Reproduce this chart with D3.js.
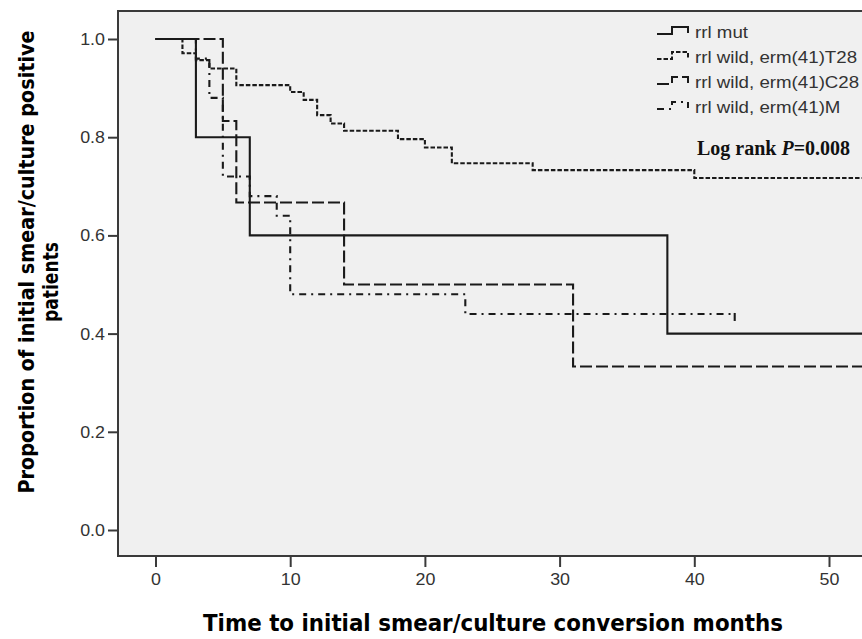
<!DOCTYPE html>
<html>
<head>
<meta charset="utf-8">
<script src="https://cdn.jsdelivr.net/npm/d3@7"></script>
<style>
  body { margin: 0; background: #fff; }
</style>
</head>
<body>
<svg id="chart" width="862" height="639"></svg>
<script>
// series: step times (months) and proportion still positive
var seriesNames = ['rrl mut', 'rrl wild, erm(41)T28', 'rrl wild, erm(41)C28', 'rrl wild, erm(41)M'];
var mutTimes = [0, 3, 7, 38];
var mutSurv = [1.0, 0.8, 0.6, 0.4];
var t28Times = [0, 2, 3, 4, 6, 10, 11, 12, 13, 14, 18, 20, 22, 28, 40];
var t28Surv = [1.0, 0.971, 0.957, 0.94, 0.906, 0.892, 0.876, 0.845, 0.828, 0.813, 0.796, 0.779, 0.747, 0.733, 0.717];
var c28Times = [0, 5, 6, 14, 31];
var c28Surv = [1.0, 0.833, 0.667, 0.5, 0.333];
var mTimes = [0, 3, 4, 5, 7, 9, 10, 23];
var mSurv = [1.0, 0.96, 0.88, 0.72, 0.68, 0.64, 0.48, 0.44];
var endTimes = [56, 56, 56, 43];
var censored = [false, false, false, true];
var xTicks = [0, 10, 20, 30, 40, 50];
var yTicks = [0.0, 0.2, 0.4, 0.6, 0.8, 1.0];
var pValue = '0.008';

var dashes = [null, '4.5,2', '12,4', '7,5,2,5'];
var inkColor = '#1a1a1a';
var frame = { left: 118, top: 11, right: 874, bottom: 556 };

var svg = d3.select('#chart');
var x = d3.scaleLinear().domain([0, 50]).range([155.5, 829]);
var y = d3.scaleLinear().domain([0, 1]).range([530, 39]);

// SPSS export looks stretched sideways a bit
var stretch = function(sel, k) {
  sel.each(function() {
    var w = this.getComputedTextLength();
    d3.select(this).attr('textLength', w * k).attr('lengthAdjust', 'spacingAndGlyphs');
  });
};

svg.append('defs').append('clipPath').attr('id', 'plotClip')
  .append('rect')
  .attr('x', frame.left).attr('y', frame.top)
  .attr('width', frame.right - frame.left).attr('height', frame.bottom - frame.top);

svg.append('rect')
  .attr('x', frame.left).attr('y', frame.top)
  .attr('width', frame.right - frame.left).attr('height', frame.bottom - frame.top)
  .attr('fill', '#f0f0f0');

// curves
var allTimes = [mutTimes, t28Times, c28Times, mTimes];
var allSurv = [mutSurv, t28Surv, c28Surv, mSurv];
var series = seriesNames.map(function(name, i) {
  var pts = allTimes[i].map(function(t, j) { return [t, allSurv[i][j]]; });
  pts.push([endTimes[i], allSurv[i][allSurv[i].length - 1]]);
  return { name: name, points: pts, dash: dashes[i], censored: censored[i] };
});

var line = d3.line()
  .x(function(d) { return x(d[0]); })
  .y(function(d) { return y(d[1]); })
  .curve(d3.curveStepAfter);

var gLines = svg.append('g').attr('clip-path', 'url(#plotClip)');
gLines.selectAll('path').data(series).enter().append('path')
  .attr('d', function(d) { return line(d.points); })
  .attr('fill', 'none')
  .attr('stroke', inkColor)
  .attr('stroke-width', 2.1)
  .attr('stroke-dasharray', function(d) { return d.dash; });

gLines.selectAll('line.censor').data(series.filter(function(d) { return d.censored; })).enter()
  .append('line').attr('class', 'censor')
  .attr('x1', function(d) { return x(d.points[d.points.length - 1][0]); })
  .attr('x2', function(d) { return x(d.points[d.points.length - 1][0]); })
  .attr('y1', function(d) { return y(d.points[d.points.length - 1][1]) - 1; })
  .attr('y2', function(d) { return y(d.points[d.points.length - 1][1]) + 7; })
  .attr('stroke', inkColor).attr('stroke-width', 2.1);

// frame
svg.append('rect')
  .attr('x', frame.left).attr('y', frame.top)
  .attr('width', frame.right - frame.left).attr('height', frame.bottom - frame.top)
  .attr('fill', 'none').attr('stroke', '#3a3a3a').attr('stroke-width', 2);

// axes
var yAxis = svg.append('g').attr('transform', 'translate(' + frame.left + ',0)')
  .call(d3.axisLeft(y).tickValues(yTicks).tickFormat(d3.format('.1f')).tickSize(10).tickPadding(3));
var xAxis = svg.append('g').attr('transform', 'translate(0,' + frame.bottom + ')')
  .call(d3.axisBottom(x).tickValues(xTicks).tickFormat(d3.format('d')).tickSize(11).tickPadding(6));
[yAxis, xAxis].forEach(function(ax) {
  ax.select('.domain').remove();
  ax.selectAll('.tick line').attr('stroke', '#3a3a3a').attr('stroke-width', 2);
  ax.selectAll('.tick text')
    .attr('fill', '#333')
    .attr('font-family', 'Liberation Sans, Arial, sans-serif')
    .attr('font-size', 17)
    .call(stretch, 1.05);
});

// axis titles
svg.append('text')
  .attr('x', 493).attr('y', 631)
  .attr('text-anchor', 'middle')
  .attr('font-family', 'DejaVu Sans, Verdana, sans-serif')
  .attr('font-weight', 'bold').attr('font-size', 23)
  .attr('textLength', 580).attr('lengthAdjust', 'spacingAndGlyphs')
  .text('Time to initial smear/culture conversion months');

svg.append('text')
  .attr('transform', 'translate(34,262) rotate(-90)')
  .attr('text-anchor', 'middle')
  .attr('font-family', 'DejaVu Sans, Verdana, sans-serif')
  .attr('font-weight', 'bold').attr('font-size', 21)
  .attr('textLength', 463).attr('lengthAdjust', 'spacingAndGlyphs')
  .text('Proportion of initial smear/culture positive');
svg.append('text')
  .attr('transform', 'translate(58,282) rotate(-90)')
  .attr('text-anchor', 'middle')
  .attr('font-family', 'DejaVu Sans, Verdana, sans-serif')
  .attr('font-weight', 'bold').attr('font-size', 21)
  .attr('textLength', 80).attr('lengthAdjust', 'spacingAndGlyphs')
  .text('patients');

// legend
var legend = svg.append('g').selectAll('g').data(series).enter().append('g')
  .attr('transform', function(d, i) { return 'translate(657,' + (38 + i * 25) + ')'; });
legend.append('path')
  .attr('d', 'M0,-4H15V-11H31V-5')
  .attr('fill', 'none').attr('stroke', inkColor).attr('stroke-width', 2)
  .attr('stroke-dasharray', function(d) { return d.dash; });
legend.append('text')
  .attr('x', 38).attr('y', 0)
  .attr('fill', '#333')
  .attr('font-family', 'Liberation Sans, Arial, sans-serif')
  .attr('font-size', 17)
  .text(function(d) { return d.name; })
  .call(stretch, 1.1);

var logRank = svg.append('text')
  .attr('x', 697).attr('y', 155)
  .attr('font-family', 'Liberation Serif, Times New Roman, serif')
  .attr('font-weight', 'bold').attr('font-size', 20)
  .attr('fill', '#111');
logRank.append('tspan').text('Log rank ');
logRank.append('tspan').attr('font-style', 'italic').text('P');
logRank.append('tspan').text('=' + pValue);
</script>
</body>
</html>
